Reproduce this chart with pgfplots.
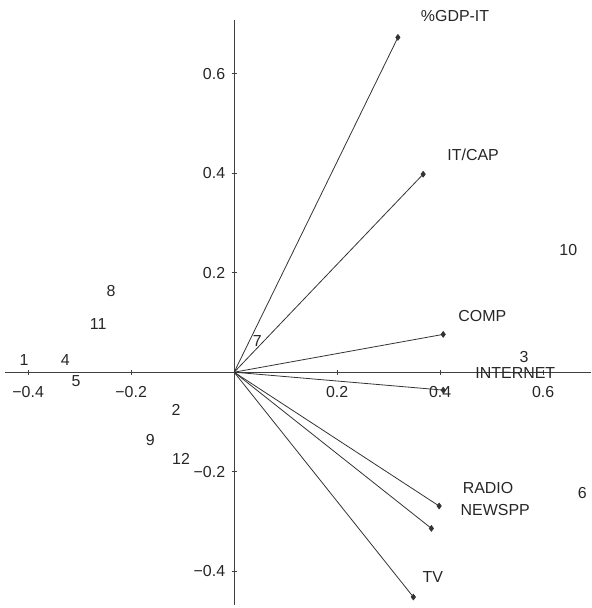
\documentclass[border=0pt]{standalone}
\usepackage{fontspec}
\setmainfont{Liberation Sans}
\usepackage{pgfplots}
\pgfplotsset{compat=1.18}
\begin{document}
\begin{tikzpicture}
\begin{axis}[
  scale only axis,
  width=586bp, height=585bp,
  xmin=-0.445, xmax=0.693,
  ymin=-0.468, ymax=0.708,
  axis lines=middle,
  axis line style={black!75, line width=0.6pt, -},
  clip=false,
  xtick={-0.4,-0.2,0.2,0.4,0.6},
  xticklabels={−0.4,−0.2,0.2,0.4,0.6},
  ytick={-0.4,-0.2,0.2,0.4,0.6},
  yticklabels={−0.4,−0.2,0.2,0.4,0.6},
  minor tick num=3,
  tick style={black!75, line width=0.5pt},
  major tick length=5bp, minor tick length=3bp,
  tick label style={font=\fontsize{16}{18}\selectfont, text=black!85},
  xticklabel style={yshift=-8bp},
  yticklabel style={xshift=-3bp},
  every axis plot/.append style={black!80, line width=0.8pt},
]
% variable vectors
\addplot[mark=diamond*, mark indices={2}, mark size=2.8pt] coordinates {(0,0) (0.318,0.673)};
\addplot[mark=diamond*, mark indices={2}, mark size=2.8pt] coordinates {(0,0) (0.367,0.398)};
\addplot[mark=diamond*, mark indices={2}, mark size=2.8pt] coordinates {(0,0) (0.406,0.076)};
\addplot[mark=diamond*, mark indices={2}, mark size=2.8pt] coordinates {(0,0) (0.406,-0.036)};
\addplot[mark=diamond*, mark indices={2}, mark size=2.8pt] coordinates {(0,0) (0.398,-0.269)};
\addplot[mark=diamond*, mark indices={2}, mark size=2.8pt] coordinates {(0,0) (0.383,-0.314)};
\addplot[mark=diamond*, mark indices={2}, mark size=2.8pt] coordinates {(0,0) (0.348,-0.452)};
% variable labels
\addplot[only marks, mark=none, nodes near coords, point meta=explicit symbolic,
  every node near coord/.style={anchor=center, font=\fontsize{16}{18}\selectfont, text=black!85}]
  table[meta=lab] {
x y lab
0.429 0.715 \%GDP-IT
0.464 0.436 IT/CAP
0.482 0.113 COMP
0.546 -0.002 INTERNET
0.493 -0.233 RADIO
0.507 -0.277 NEWSPP
0.386 -0.412 TV
};
% observation labels
\addplot[only marks, mark=none, nodes near coords, point meta=explicit symbolic,
  every node near coord/.style={anchor=center, font=\fontsize{16}{18}\selectfont, text=black!85}]
  table[meta=lab] {
x y lab
-0.408 0.024 1
-0.328 0.024 4
-0.307 -0.018 5
-0.239 0.163 8
-0.264 0.096 11
-0.113 -0.076 2
-0.163 -0.137 9
-0.103 -0.175 12
0.045 0.062 7
0.563 0.030 3
0.649 0.245 10
0.676 -0.243 6
};
\end{axis}
\pgfresetboundingbox
\path[use as bounding box] ([shift={(-5bp,-3bp)}]current axis.south west) rectangle ([shift={(0bp,20bp)}]current axis.north east);
\end{tikzpicture}
\end{document}
